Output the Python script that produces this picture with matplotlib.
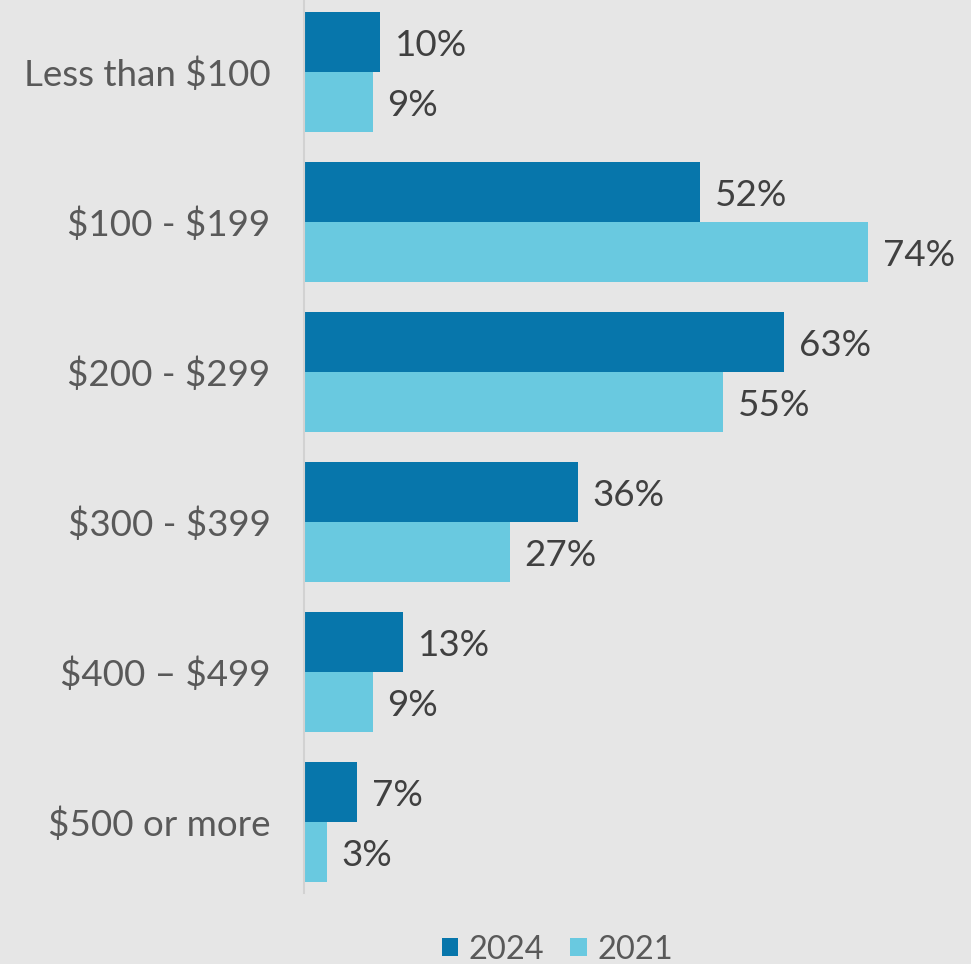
import matplotlib
matplotlib.use("Agg")
import matplotlib.pyplot as plt
import numpy as np

categories = ["Less than \\$100", "\\$100 - \\$199", "\\$200 - \\$299", "\\$300 - \\$399",
              "\\$400 \u2013 \\$499", "\\$500 or more"]
vals_2024 = [10, 52, 63, 36, 13, 7]
vals_2021 = [9, 74, 55, 27, 9, 3]

plt.rcParams['font.family'] = ['Lato', 'DejaVu Sans']

bg = "#e6e6e6"
dark = "#0776ab"
light = "#69c9e0"

fig = plt.figure(figsize=(9.71, 9.64), dpi=100, facecolor=bg)
ax = fig.add_axes([0.313, 0.074, 0.687, 0.926], facecolor=bg)

y = np.arange(len(categories))
h = 0.4
b1 = ax.barh(y - h / 2, vals_2024, height=h, color=dark, label="2024")
b2 = ax.barh(y + h / 2, vals_2021, height=h, color=light, label="2021")

for bars, vals in ((b1, vals_2024), (b2, vals_2021)):
    for bar, v in zip(bars, vals):
        ax.text(bar.get_width() + 1.9, bar.get_y() + bar.get_height() / 2 + 0.02,
                f"{v}%", va="center", ha="left", fontsize=26.5, color="#404040")

ax.set_xlim(0, 87.5)
ax.set_ylim(5.47, -0.48)
ax.set_yticks(y)
ax.set_yticklabels(categories, fontsize=26.5, color="#595959")
ax.tick_params(axis="y", length=0, pad=24)
ax.set_xticks([])
for s in ["top", "right", "bottom"]:
    ax.spines[s].set_visible(False)
ax.spines["left"].set_color("#d2d2d2")
ax.spines["left"].set_linewidth(1.5)

fig.legend(handles=[b1, b2], loc="center", bbox_to_anchor=(0.574, 0.015),
           ncol=2, frameon=False, fontsize=23.5, labelcolor="#595959",
           handlelength=0.5, handleheight=0.5, handletextpad=0.33,
           columnspacing=0.8)

fig.savefig("out.png", dpi=100, facecolor=bg)
